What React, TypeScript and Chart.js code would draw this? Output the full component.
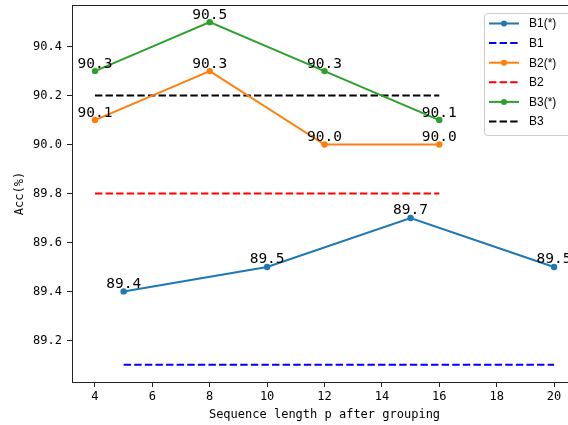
import React, { useEffect, useRef } from "react";
import { Chart, registerables } from "chart.js";

Chart.register(...registerables);

// ---- data ----
const b1X = [5, 10, 15, 20];
const b1Star = [89.4, 89.5, 89.7, 89.5];
const b1Base = 89.1;
const b23X = [4, 8, 12, 16];
const b2Star = [90.1, 90.3, 90.0, 90.0];
const b2Base = 89.8;
const b3Star = [90.3, 90.5, 90.3, 90.1];
const b3Base = 90.2;
const xTicks = [4, 6, 8, 10, 12, 14, 16, 18, 20];
const yTicks = [89.2, 89.4, 89.6, 89.8, 90.0, 90.2, 90.4];
const labels = ["B1(*)", "B1", "B2(*)", "B2", "B3(*)", "B3"];

const MONO = "'DejaVu Sans Mono', monospace";
const DASH = [7.4, 3.2];

const pts = (xs: number[], ys: number[]) => xs.map((x, i) => ({ x, y: ys[i] }));
const flat = (xs: number[], v: number) => [{ x: xs[0], y: v }, { x: xs[xs.length - 1], y: v }];

const valueLabels = {
  id: "valueLabels",
  afterDatasetsDraw(chart: any) {
    const ctx = chart.ctx;
    ctx.save();
    ctx.font = `14.5px ${MONO}`;
    ctx.fillStyle = "#000";
    ctx.textAlign = "center";
    ctx.textBaseline = "bottom";
    chart.data.datasets.forEach((ds: any, i: number) => {
      if (!ds.showValues) return;
      const meta = chart.getDatasetMeta(i);
      meta.data.forEach((el: any, j: number) => {
        ctx.fillText(ds.data[j].y.toFixed(1), el.x, el.y);
      });
    });
    ctx.restore();
  },
};

const frame = {
  id: "frame",
  afterDraw(chart: any) {
    const { ctx, chartArea: a } = chart;
    ctx.save();
    ctx.strokeStyle = "#222";
    ctx.lineWidth = 1;
    ctx.beginPath();
    ctx.moveTo(a.left, Math.round(a.top) + 0.5);
    ctx.lineTo(a.right, Math.round(a.top) + 0.5);
    ctx.moveTo(Math.round(a.right) + 0.5, a.top);
    ctx.lineTo(Math.round(a.right) + 0.5, a.bottom);
    ctx.stroke();
    ctx.restore();
  },
};

const customLegend = {
  id: "customLegend",
  afterDraw(chart: any) {
    const ctx = chart.ctx;
    const x0 = 484, y0 = 13, w = 100, h = 122;
    ctx.save();
    ctx.fillStyle = "rgba(255,255,255,0.8)";
    ctx.strokeStyle = "#cccccc";
    ctx.lineWidth = 1;
    ctx.beginPath();
    (ctx as any).roundRect(x0 + 0.5, y0 + 0.5, w, h, 3);
    ctx.fill();
    ctx.stroke();
    ctx.font = `12px 'Liberation Sans', sans-serif`;
    ctx.textBaseline = "middle";
    ctx.textAlign = "left";
    chart.data.datasets.forEach((ds: any, i: number) => {
      const cy = 23.5 + i * 19.6;
      ctx.strokeStyle = ds.borderColor;
      ctx.lineWidth = 2;
      ctx.setLineDash(ds.borderDash || []);
      ctx.beginPath();
      ctx.moveTo(489, cy);
      ctx.lineTo(519, cy);
      ctx.stroke();
      ctx.setLineDash([]);
      if (ds.pointRadius > 0) {
        ctx.fillStyle = ds.borderColor;
        ctx.beginPath();
        ctx.arc(504, cy, 3, 0, Math.PI * 2);
        ctx.fill();
      }
      ctx.fillStyle = "#000";
      ctx.fillText(ds.label, 529, cy + 0.5);
    });
    ctx.restore();
  },
};

export default function App() {
  const ref = useRef<HTMLCanvasElement | null>(null);
  useEffect(() => {
    if (!ref.current) return;
    const solid = (label: string, data: any[], color: string) => ({
      label, data, borderColor: color, backgroundColor: color,
      borderWidth: 2, pointRadius: 3.2, pointHoverRadius: 3.2, pointBorderWidth: 0,
      showValues: true, tension: 0,
    });
    const dashed = (label: string, data: any[], color: string) => ({
      label, data, borderColor: color, backgroundColor: color,
      borderWidth: 2, borderDash: DASH, pointRadius: 0, showValues: false,
    });
    const chart = new Chart(ref.current, {
      type: "line",
      data: {
        datasets: [
          solid(labels[0], pts(b1X, b1Star), "#1f77b4"),
          dashed(labels[1], flat(b1X, b1Base), "#0000ff"),
          solid(labels[2], pts(b23X, b2Star), "#ff7f0e"),
          dashed(labels[3], flat(b23X, b2Base), "#ff0000"),
          solid(labels[4], pts(b23X, b3Star), "#2ca02c"),
          dashed(labels[5], flat(b23X, b3Base), "#000000"),
        ] as any,
      },
      options: {
        responsive: false,
        animation: false,
        devicePixelRatio: 1,
        layout: { padding: { left: 0, right: 13, top: 5, bottom: 0 } },
        plugins: { legend: { display: false }, tooltip: { enabled: false } },
        scales: {
          x: {
            type: "linear",
            min: 3.2,
            max: 20.8,
            afterFit: (s: any) => { s.height = 43; s.paddingLeft = 0; s.paddingRight = 0; },
            afterBuildTicks: (s: any) => { s.ticks = xTicks.map((v) => ({ value: v })); },
            ticks: { font: { family: MONO, size: 12 }, color: "#000", padding: 3, maxRotation: 0, autoSkip: false,
              callback: (v: any) => String(v) },
            grid: { display: true, drawOnChartArea: false, drawTicks: true, tickLength: 5, tickColor: "#222", tickWidth: 1 },
            border: { display: true, color: "#222", width: 1 },
            title: { display: true, text: "Sequence length p after grouping", font: { family: MONO, size: 12 }, color: "#000", padding: { top: 0, bottom: 3 } },
          },
          y: {
            type: "linear",
            min: 89.03,
            max: 90.57,
            afterFit: (s: any) => { s.width = 72; s.paddingTop = 0; s.paddingBottom = 0; },
            afterBuildTicks: (s: any) => { s.ticks = yTicks.map((v) => ({ value: v })); },
            ticks: { font: { family: MONO, size: 12 }, color: "#000", padding: 5, autoSkip: false,
              callback: (v: any) => Number(v).toFixed(1) },
            grid: { display: true, drawOnChartArea: false, drawTicks: true, tickLength: 5, tickColor: "#222", tickWidth: 1 },
            border: { display: true, color: "#222", width: 1 },
            title: { display: true, text: "Acc(%)", font: { family: MONO, size: 12 }, color: "#000", padding: { top: 13, bottom: 0 } },
          },
        },
      } as any,
      plugins: [valueLabels, frame, customLegend],
    });
    return () => chart.destroy();
  }, []);
  return (
    <div style={{ position: "fixed", left: 0, top: 0, width: 568, height: 425, overflow: "hidden", background: "#fff" }}>
      <canvas ref={ref} width={590} height={425} style={{ display: "block" }} />
    </div>
  );
}
